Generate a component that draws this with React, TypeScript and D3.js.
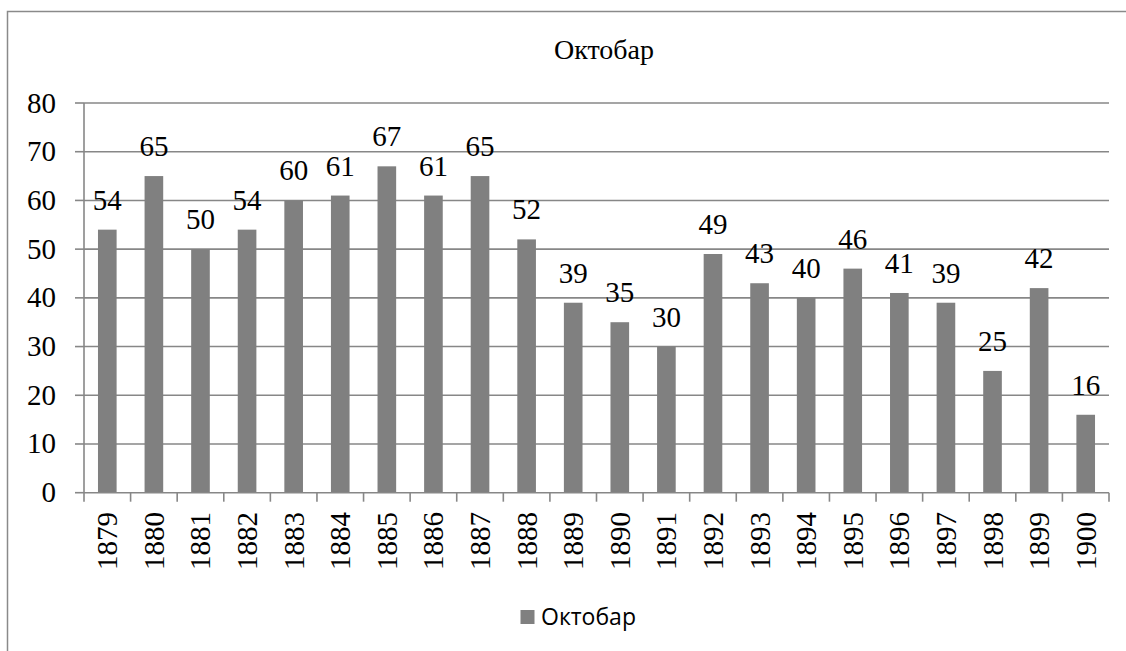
import React from "react";
import * as d3 from "d3";

const categories = ["1879","1880","1881","1882","1883","1884","1885","1886","1887","1888","1889","1890","1891","1892","1893","1894","1895","1896","1897","1898","1899","1900"];
const values = [54,65,50,54,60,61,67,61,65,52,39,35,30,49,43,40,46,41,39,25,42,16];
const yTicks = [0,10,20,30,40,50,60,70,80];
const title = "Октобар";
const seriesName = "Октобар";

const W = 1126, H = 651;
const left = 84, right = 1109, top = 103, bottom = 492.7;
const gridColor = "#878787";
const barColor = "#808080";

export default function App() {
  const ref = React.useRef<SVGSVGElement>(null);
  React.useEffect(() => {
    const svg = d3.select(ref.current);
    svg.selectAll("*").remove();
    const x = d3.scaleBand().domain(categories).range([left, right]).paddingInner(0.6).paddingOuter(0.3);
    const y = d3.scaleLinear().domain([0, 80]).range([bottom, top]);
    const bw = x.bandwidth();
    const step = (right - left) / categories.length;
    const serif = "Liberation Serif";
    const fs = 29;

    svg.append("rect").attr("x", 7.5).attr("y", 11.5).attr("width", 1200).attr("height", 700)
      .attr("fill", "none").attr("stroke", "#8a8a8a").attr("stroke-width", 1.5);

    svg.append("text").attr("x", 604).attr("y", 59).attr("text-anchor", "middle")
      .attr("font-family", serif).attr("font-size", 28).text(title);

    const g = svg.append("g");
    yTicks.forEach(t => {
      if (t > 0) g.append("line").attr("x1", left).attr("x2", right).attr("y1", y(t)).attr("y2", y(t)).attr("stroke", gridColor).attr("stroke-width", 1.6);
      g.append("line").attr("x1", 75).attr("x2", left).attr("y1", y(t)).attr("y2", y(t)).attr("stroke", gridColor).attr("stroke-width", 1.6);
      g.append("text").attr("x", 56).attr("y", y(t) + 9.5).attr("text-anchor", "end")
        .attr("font-family", serif).attr("font-size", fs).text(String(t));
    });

    svg.selectAll("rect.bar").data(values).enter().append("rect").attr("class", "bar")
      .attr("x", (_, i) => x(categories[i]) as number).attr("y", d => y(d))
      .attr("width", bw).attr("height", d => y(0) - y(d)).attr("fill", barColor);

    svg.append("line").attr("x1", left).attr("x2", left).attr("y1", top).attr("y2", bottom).attr("stroke", gridColor).attr("stroke-width", 1.6);
    svg.append("line").attr("x1", left).attr("x2", right).attr("y1", bottom).attr("y2", bottom).attr("stroke", gridColor).attr("stroke-width", 1.6);
    d3.range(categories.length + 1).forEach(i => {
      const b = left + i * step;
      svg.append("line").attr("x1", b).attr("x2", b).attr("y1", bottom).attr("y2", bottom + 9).attr("stroke", gridColor).attr("stroke-width", 1.6);
    });

    svg.selectAll("text.val").data(values).enter().append("text").attr("class", "val")
      .attr("x", (_, i) => (x(categories[i]) as number) + bw / 2).attr("y", d => y(d) - 20)
      .attr("text-anchor", "middle").attr("font-family", serif).attr("font-size", fs).text(d => String(d));

    svg.selectAll("text.cat").data(categories).enter().append("text").attr("class", "cat")
      .attr("transform", c => `translate(${(x(c) as number) + bw / 2 + 10},512) rotate(-90)`)
      .attr("text-anchor", "end").attr("font-family", serif).attr("font-size", fs).text(c => c);

    svg.append("rect").attr("x", 520.5).attr("y", 610).attr("width", 14).attr("height", 14).attr("fill", barColor);
    svg.append("text").attr("x", 541).attr("y", 625).attr("font-family", "Open Sans").attr("font-size", 23).text(seriesName);
  }, []);

  return (
    <div style={{ position: "fixed", left: 0, top: 0, width: W, height: H, background: "#fff" }}>
      <svg ref={ref} width={W} height={H} style={{ display: "block" }} />
    </div>
  );
}
